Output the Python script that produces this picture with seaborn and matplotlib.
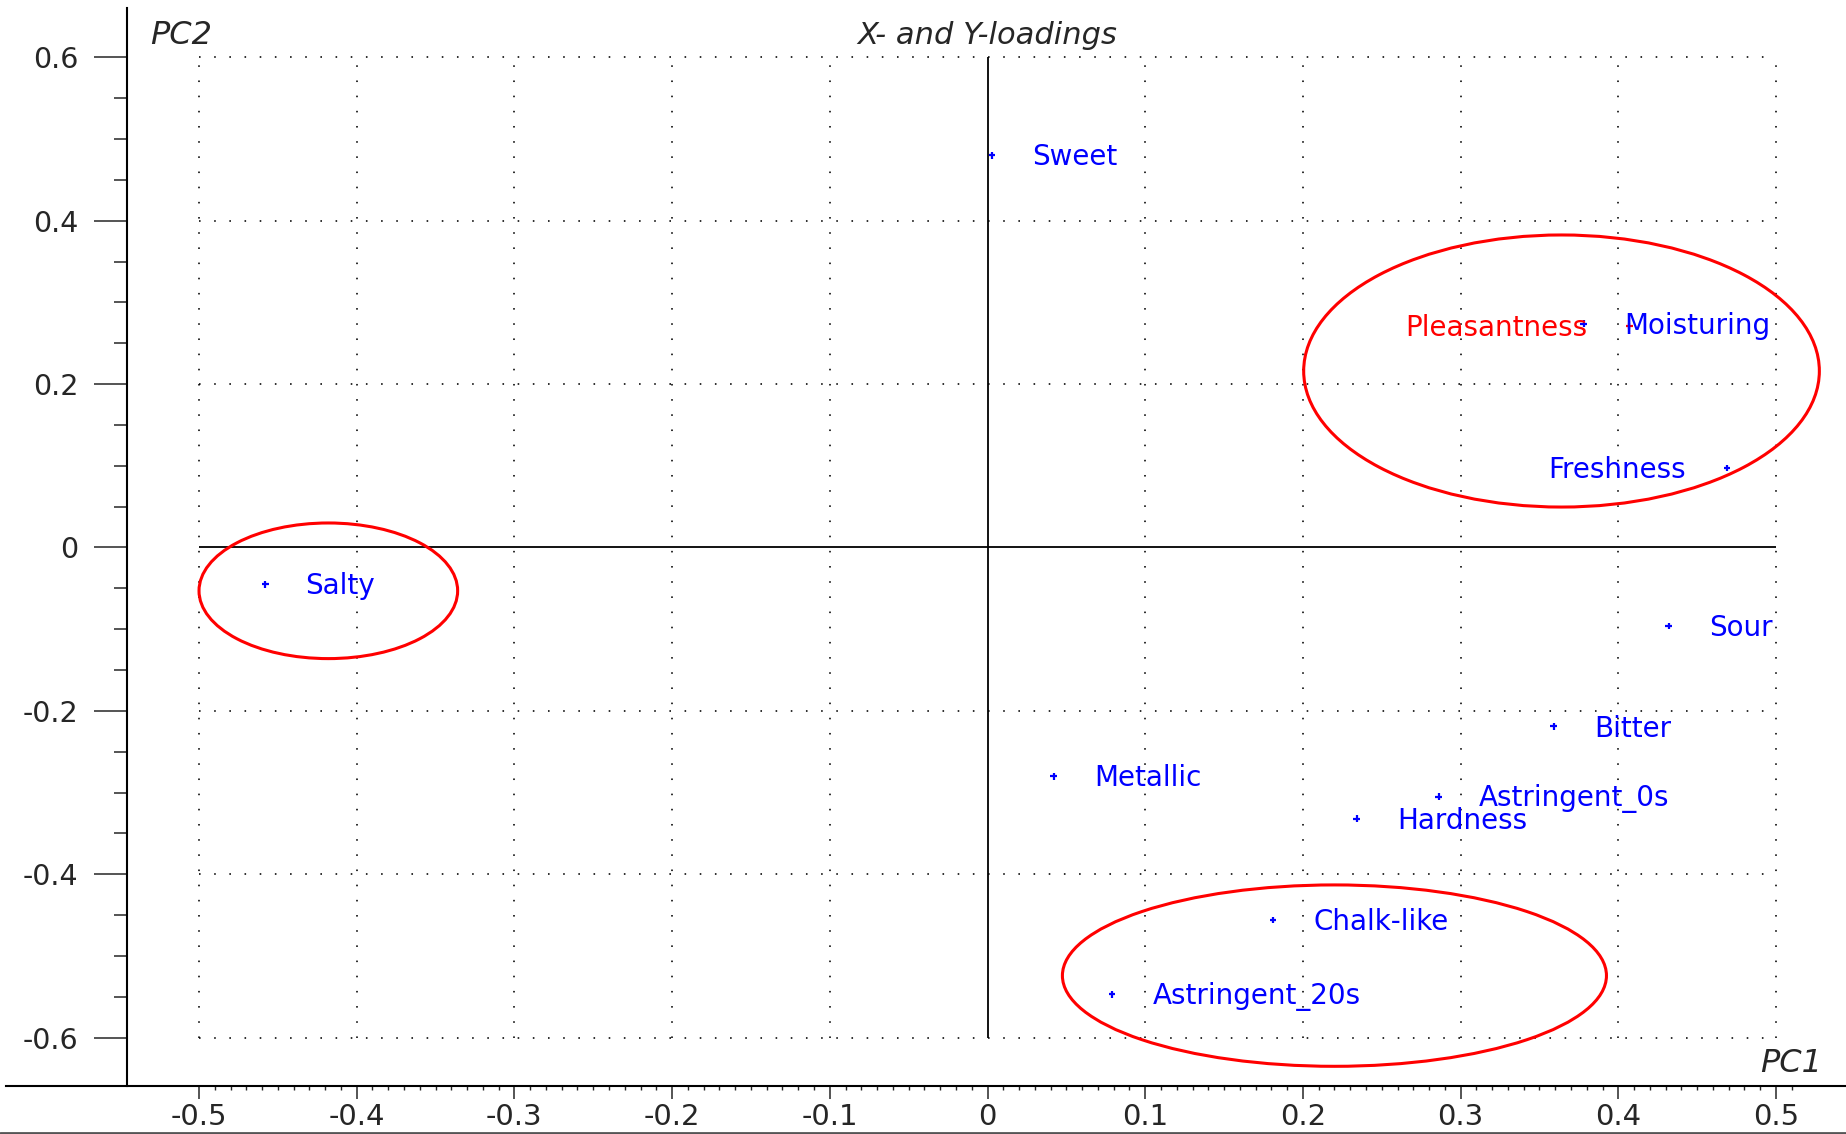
import numpy as np
import pandas as pd
import matplotlib
matplotlib.use("Agg")
import matplotlib.pyplot as plt
from matplotlib.patches import Ellipse
from matplotlib.ticker import FixedLocator, FuncFormatter
from matplotlib.lines import Line2D
import seaborn as sns

# loadings
names = ['Sweet', 'Salty', 'Sour', 'Bitter', 'Metallic', 'Astringent_0s',
         'Hardness', 'Chalk-like', 'Astringent_20s', 'Freshness',
         'Moisturing', 'Pleasantness']
pc1 = [0.003, -0.458, 0.432, 0.359, 0.042, 0.286,
       0.234, 0.181, 0.079, 0.469, 0.378, 0.407]
pc2 = [0.480, -0.045, -0.096, -0.219, -0.280, -0.305,
       -0.332, -0.456, -0.547, 0.097, 0.274, 0.271]
block = ['X'] * 11 + ['Y']

# hand-drawn groupings (centre x, centre y, width, height)
groups = [(-0.418, -0.053, 0.164, 0.166),
          (0.364, 0.216, 0.327, 0.333),
          (0.220, -0.524, 0.345, 0.222)]

df = pd.DataFrame({'name': names, 'PC1': pc1, 'PC2': pc2, 'block': block})
colors = {'X': '#0000FF', 'Y': '#FF0000'}
left_labelled = {'Freshness', 'Pleasantness'}

sns.set_style('white')
plt.rcParams['font.family'] = ['DejaVu Sans']
plt.rcParams['axes.unicode_minus'] = False

W, H = 1846, 1134
fig = plt.figure(figsize=(W / 100, H / 100), dpi=100)
ax = fig.add_axes([6 / W, 48 / H, 1840 / W, 1078 / H])
ax.set_xlim(-0.6224, 0.5444)
ax.set_ylim(-0.6591, 0.6603)

# dotted grid inside the box
xg = np.round(np.arange(-5, 6) / 10, 1)
yg = np.round(np.arange(-3, 4) / 5, 1)
dots = (0, (1, 8.5))
ax.vlines(xg[xg != 0], -0.6, 0.6, colors='black', linewidth=1.15, linestyles=dots, zorder=0)
ax.hlines(yg[yg != 0], -0.5, 0.5, colors='black', linewidth=1.15, linestyles=dots, zorder=0)
ax.vlines(0, -0.6, 0.6, colors='black', linewidth=1.3, zorder=1)
ax.hlines(0, -0.5, 0.5, colors='black', linewidth=1.3, zorder=1)

sns.scatterplot(data=df, x='PC1', y='PC2', hue='block', palette=colors,
                marker='+', s=22, linewidth=1.6, legend=False, ax=ax, zorder=2)

for _, r in df.iterrows():
    left = r['name'] in left_labelled
    ax.annotate(r['name'], (r['PC1'], r['PC2']),
                xytext=(-30 if left else 29, -1.5), textcoords='offset points',
                ha='right' if left else 'left', va='center',
                fontsize=20, color=colors[r['block']], zorder=3)

for cx, cy, w, h in groups:
    ax.add_patch(Ellipse((cx, cy), w, h, fill=False, edgecolor='#FF0000',
                         linewidth=2.2, zorder=4))

# axes styling
for s in ['top', 'right']:
    ax.spines[s].set_visible(False)
ax.spines['left'].set_position(('data', -0.5457))
for s in ['left', 'bottom']:
    ax.spines[s].set_linewidth(1.5)
    ax.spines[s].set_color('black')

ax.xaxis.set_major_locator(FixedLocator(xg))
ax.xaxis.set_minor_locator(FixedLocator(np.round(np.arange(-50, 52) / 100, 2)))
ax.yaxis.set_major_locator(FixedLocator(yg))
ax.yaxis.set_minor_locator(FixedLocator(np.round(np.arange(-12, 13) / 20, 2)))
fmt = FuncFormatter(lambda v, p: '%g' % round(v, 2))
ax.xaxis.set_major_formatter(fmt)
ax.yaxis.set_major_formatter(fmt)

ax.tick_params(axis='x', which='major', direction='out', length=9.4, width=1.1,
               pad=3, labelsize=21, bottom=True)
ax.tick_params(axis='x', which='minor', direction='out', length=2.8, width=1.0, bottom=True)
ax.tick_params(axis='y', which='major', direction='out', length=23.8, width=1.1,
               pad=11, labelsize=20.5, left=True)
ax.tick_params(axis='y', which='minor', direction='out', length=9.4, width=1.1, left=True)
ax.set_xlabel('')
ax.set_ylabel('')

# title and axis names
ax.text(0, (1086 - 36) / 1078, 'X- and Y-loadings', transform=ax.get_xaxis_transform(),
        ha='center', va='center', fontsize=22, style='italic')
fig.text(150 / W, 1 - 36 / H, 'PC2', ha='left', va='center', fontsize=23, style='italic')
fig.text(1822 / W, 1 - 1064 / H, 'PC1', ha='right', va='center', fontsize=23, style='italic')

# frame line at the very bottom of the image
fig.add_artist(Line2D([0, 1], [1.5 / H, 1.5 / H], color='#555555', linewidth=2,
                      transform=fig.transFigure))

fig.savefig('out.png', dpi=100)
